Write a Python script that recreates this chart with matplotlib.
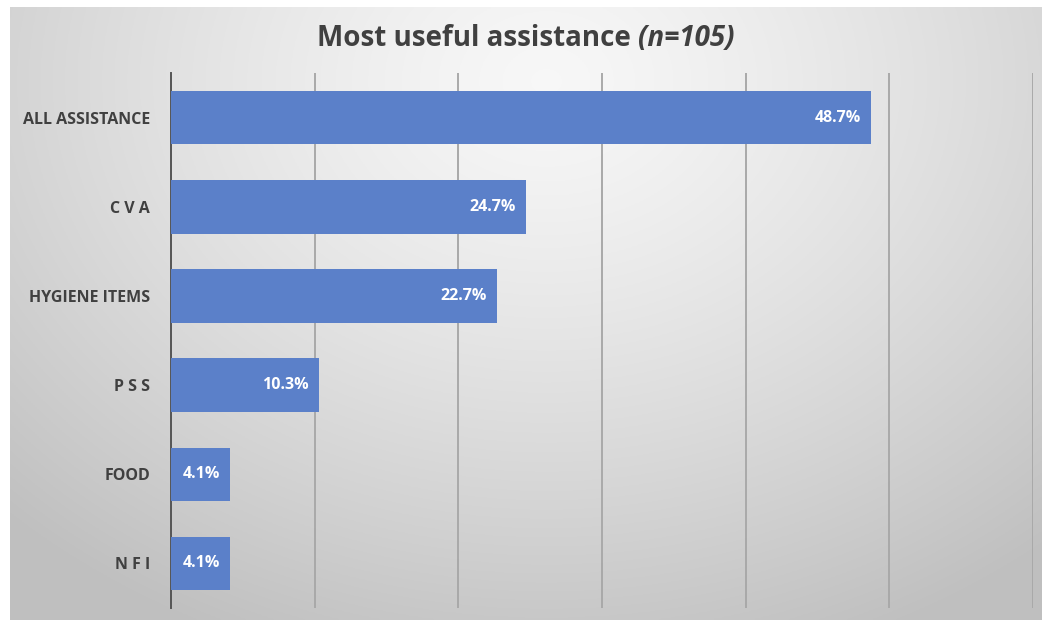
import matplotlib.pyplot as plt
import numpy as np

categories = ['ALL ASSISTANCE', 'C V A', 'HYGIENE ITEMS', 'P S S', 'FOOD', 'N F I']
values = [48.7, 24.7, 22.7, 10.3, 4.1, 4.1]
labels = ['48.7%', '24.7%', '22.7%', '10.3%', '4.1%', '4.1%']

fig = plt.figure(figsize=(10.42, 6.22), dpi=100)
fig.patch.set_facecolor('white')

# soft grey gradient behind the chart
bg = fig.add_axes([10 / 1042, 2 / 622, 1032 / 1042, 613 / 622])
yy, xx = np.mgrid[0:1:300j, 0:1:500j]
d = np.sqrt(((xx - 0.52) / 0.75) ** 2 + ((yy - 0.12) / 1.0) ** 2)
shade = 0.97 - 0.22 * np.clip(d, 0, 1) ** 1.3
bg.imshow(np.dstack([shade] * 3), aspect='auto', extent=[0, 1, 1, 0])
bg.axis('off')

ax = fig.add_axes([171 / 1042, 1 - 608 / 622, 862 / 1042, 535 / 622])
ax.patch.set_alpha(0)
y = np.arange(len(categories))
ax.barh(y, values, height=0.6, color='#5b80c9', zorder=3)
ax.set_xlim(0, 60)
ax.set_ylim(len(categories) - 0.5, -0.5)
ax.set_xticks(np.arange(0, 61, 10))
ax.xaxis.grid(True, color='#a9a9a9', linewidth=1.4, zorder=0)
ax.tick_params(axis='x', length=0, labelbottom=False)
ax.tick_params(axis='y', length=0, pad=15)
ax.set_yticks(y)
ax.set_yticklabels(categories, fontsize=11.5, fontweight='bold', color='#404040',
                   family='Open Sans')
for s in ['top', 'right', 'bottom']:
    ax.spines[s].set_visible(False)
ax.spines['left'].set_color('#555555')
ax.spines['left'].set_linewidth(1.4)

for yi, v, lab in zip(y, values, labels):
    ax.text(v - 0.7, yi, lab, ha='right', va='center', color='white',
            fontsize=11.5, fontweight='bold', family='Open Sans', zorder=4)

fig.text(0.612, 0.938, 'Most useful assistance ', ha='right', va='center',
         fontsize=20, fontweight='bold', color='#404040', family='Open Sans')
fig.text(0.612, 0.938, '(n=105)', ha='left', va='center', fontsize=20,
         fontweight='bold', style='italic', color='#404040', family='Open Sans')

fig.savefig('out.png', dpi=100)
